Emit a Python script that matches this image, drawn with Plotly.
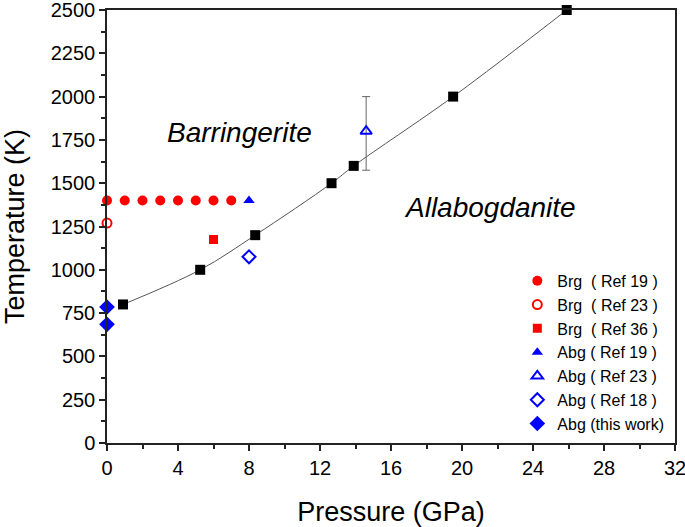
import plotly.graph_objects as go

# Phase boundary (black squares)
bnd_p = [0.9, 5.25, 8.35, 12.65, 13.9, 19.5, 25.9]
bnd_t = [800, 1000, 1200, 1500, 1600, 2000, 2500]

brg19_p = [0, 1, 2, 3, 4, 5, 6, 7]
brg19_t = [1400, 1400, 1400, 1400, 1400, 1400, 1400, 1400]
brg23_p = [0]
brg23_t = [1270]
brg36_p = [6]
brg36_t = [1175]
abg19_p = [8]
abg19_t = [1400]
abg23_p = [14.6]
abg23_t = [1800]
abg23_err_plus = [200]
abg23_err_minus = [225]
abg18_p = [8]
abg18_t = [1075]
abgtw_p = [0, 0]
abgtw_t = [785, 685]

x_ticks = [0, 4, 8, 12, 16, 20, 24, 28, 32]
y_ticks = [0, 250, 500, 750, 1000, 1250, 1500, 1750, 2000, 2250, 2500]

RED = "#ff0000"
BLUE = "#0000ff"
FONT = "Liberation Sans, Arial, sans-serif"

fig = go.Figure()

fig.add_trace(go.Scatter(x=bnd_p, y=bnd_t, mode="lines+markers", line=dict(color="#555555", width=1, shape="spline"),
                         marker=dict(symbol="square", size=10, color="black"), showlegend=False, cliponaxis=False))

fig.add_trace(go.Scatter(x=brg19_p, y=brg19_t, mode="markers", name="Brg  ( Ref 19 )",
                         marker=dict(symbol="circle", size=10, color=RED), cliponaxis=False))
fig.add_trace(go.Scatter(x=brg23_p, y=brg23_t, mode="markers", name="Brg  ( Ref 23 )",
                         marker=dict(symbol="circle-open", size=9, color=RED, line=dict(width=2)), cliponaxis=False))
fig.add_trace(go.Scatter(x=brg36_p, y=brg36_t, mode="markers", name="Brg  ( Ref 36 )",
                         marker=dict(symbol="square", size=9, color=RED), cliponaxis=False))
fig.add_trace(go.Scatter(x=abg19_p, y=abg19_t, mode="markers", name="Abg ( Ref 19 )",
                         marker=dict(symbol="triangle-up", size=10, color=BLUE), cliponaxis=False))
fig.add_trace(go.Scatter(x=abg23_p, y=abg23_t, mode="markers", name="Abg ( Ref 23 )",
                         marker=dict(symbol="triangle-up-open", size=10, color=BLUE, line=dict(width=2)),
                         error_y=dict(type="data", array=abg23_err_plus, arrayminus=abg23_err_minus,
                                      color="#666666", thickness=1, width=4),
                         cliponaxis=False))
fig.add_trace(go.Scatter(x=abg18_p, y=abg18_t, mode="markers", name="Abg ( Ref 18 )",
                         marker=dict(symbol="diamond-open", size=10, color=BLUE, line=dict(width=2)), cliponaxis=False))
fig.add_trace(go.Scatter(x=abgtw_p, y=abgtw_t, mode="markers", name="Abg (this work)",
                         marker=dict(symbol="diamond", size=12, color=BLUE), cliponaxis=False))

fig.add_annotation(x=7.48, y=1790, text="<i>Barringerite</i>", showarrow=False,
                   font=dict(size=28, color="black", family=FONT))
fig.add_annotation(x=21.6, y=1357, text="<i>Allabogdanite</i>", showarrow=False,
                   font=dict(size=28, color="black", family=FONT))

axis_common = dict(showgrid=False, zeroline=False, showline=True, linecolor="#222222", linewidth=1.5,
                   mirror=True, ticks="outside", ticklen=6, tickwidth=1.5, tickcolor="#222222",
                   automargin=False, ticklabeloverflow="allow",
                   tickfont=dict(size=20, color="black", family=FONT))

fig.update_xaxes(range=[0, 32], tickvals=x_ticks, ticktext=[str(v) for v in x_ticks],
                 minor=dict(dtick=2, ticks="outside", ticklen=4, tickwidth=1.5, tickcolor="#222222"),
                 title=dict(text="Pressure (GPa)", font=dict(size=27, color="black", family=FONT), standoff=25),
                 **axis_common)
fig.update_yaxes(range=[0, 2500], tickvals=y_ticks, ticktext=[str(v) for v in y_ticks],
                 minor=dict(dtick=125, ticks="outside", ticklen=4, tickwidth=1.5, tickcolor="#222222"),
                 title=dict(text="Temperature (K)", font=dict(size=27, color="black", family=FONT), standoff=20),
                 **axis_common)

fig.update_layout(width=685, height=527, margin=dict(l=107, r=10, t=10, b=84),
                  plot_bgcolor="white", paper_bgcolor="white",
                  legend=dict(x=0.99, y=0.005, xanchor="right", yanchor="bottom", bgcolor="rgba(0,0,0,0)",
                              font=dict(size=16, color="black", family=FONT), tracegroupgap=0,
                              itemwidth=30))

fig.write_html("out.html", config={"displayModeBar": False},
               post_script="document.body.style.margin='0';document.body.style.overflow='hidden';")
